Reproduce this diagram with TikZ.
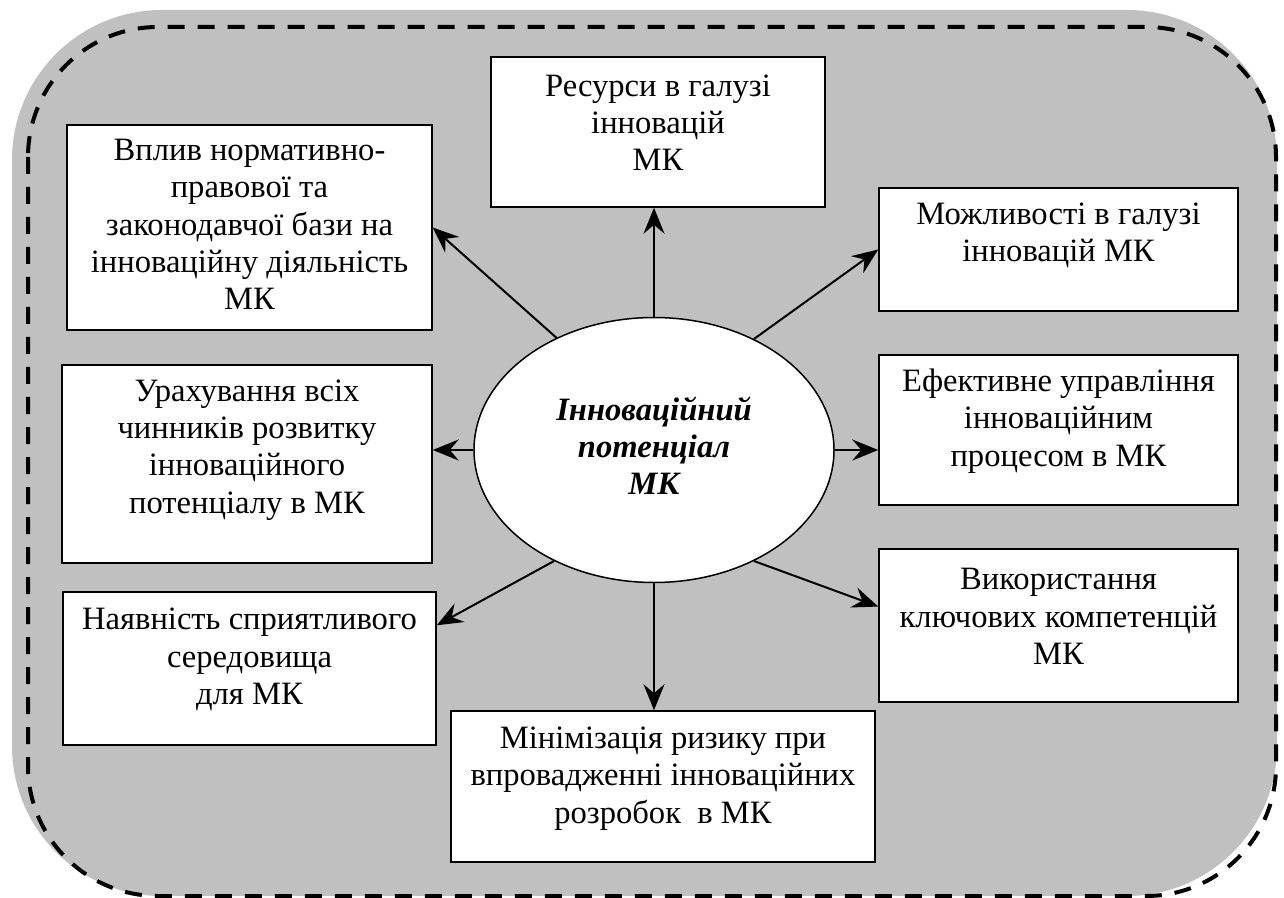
\documentclass[tikz,border=0pt]{standalone}
\usepackage{fontspec}
\setmainfont{Liberation Serif}
\usetikzlibrary{shapes.geometric,arrows.meta}
\definecolor{bggray}{HTML}{C0C0C0}
\tikzset{block/.style = {draw, fill=white, line width=0.75pt, rectangle, inner sep=0pt}}
\tikzset{txt/.style = {align=center, inner sep=0pt, font=\fontsize{16.3}{18.6}\selectfont}}
\tikzset{arr/.style = {-{Stealth[length=13pt, width=10.5pt, inset=4.5pt]}, line width=1pt}}

\begin{document}
\begin{tikzpicture}[x=0.5pt, y=-0.5pt]
    \useasboundingbox (0,0) rectangle (1284,898);
    \fill[bggray, rounded corners=75pt] (12,10) rectangle (1277,896);
    \draw[line width=2pt, dash pattern=on 8.5pt off 6.5pt, rounded corners=65pt] (28,27) rectangle (1276,896);
    \node[ellipse, draw, fill=white, line width=0.75pt, minimum width=180pt, minimum height=132.5pt](ell)at(654,450){};
    \node[txt, font=\fontsize{16.3}{18.6}\selectfont\bfseries\itshape](ellT)at([yshift=2pt]ell.center){Інноваційний\\потенціал\\МК};
    \node[block, minimum width=167pt, minimum height=75pt](res)at(658,132){};
    \node[txt](resT)at([yshift=4.5pt]res.center){Ресурси в галузі\\інновацій\\МК};
    \node[block, minimum width=182.5pt, minimum height=102.5pt](vplyv)at(249.5,227.5){};
    \node[txt](vplyvT)at([yshift=1.5pt]vplyv.center){Вплив нормативно-\\правової та\\законодавчої бази на\\інноваційну діяльність\\МК};
    \node[block, minimum width=179.5pt, minimum height=61.5pt](mozh)at(1058.5,249.5){};
    \node[txt](mozhT)at([yshift=7pt]mozh.center){Можливості в галузі\\інновацій МК};
    \node[block, minimum width=185pt, minimum height=99pt](urakh)at(247,464){};
    \node[txt](urakhT)at([yshift=7pt]urakh.center){Урахування всіх\\чинників розвитку\\інноваційного\\потенціалу в МК};
    \node[block, minimum width=179.5pt, minimum height=75pt](efekt)at(1058.5,430){};
    \node[txt](efektT)at([yshift=4.5pt]efekt.center){Ефективне управління\\інноваційним\\процесом в МК};
    \node[block, minimum width=179.5pt, minimum height=76.5pt](vykor)at(1058.5,625.5){};
    \node[txt](vykorT)at([yshift=4.5pt]vykor.center){Використання\\ключових компетенцій\\МК};
    \node[block, minimum width=186.5pt, minimum height=76.5pt](nayav)at(249.5,668.5){};
    \node[txt](nayavT)at([yshift=4.5pt]nayav.center){Наявність сприятливого\\середовища\\для МК};
    \node[block, minimum width=212pt, minimum height=75.5pt](minim)at(663,786.5){};
    \node[txt](minimT)at([yshift=4pt]minim.center){Мінімізація ризику при\\впровадженні інноваційних\\розробок\ \ в МК};
    \draw[arr](ell.north)--(ell.north |- res.south);
    \draw[arr](ell.131)--(vplyv.east);
    \draw[arr](ell.48)--(mozh.west);
    \draw[arr](ell.west)--(ell.west -| urakh.east);
    \draw[arr](ell.east)--(ell.east -| efekt.west);
    \draw[arr](ell.228)--(nayav.13);
    \draw[arr](ell.312)--(vykor.174);
    \draw[arr](ell.south)--(ell.south |- minim.north);
\end{tikzpicture}
\end{document}
